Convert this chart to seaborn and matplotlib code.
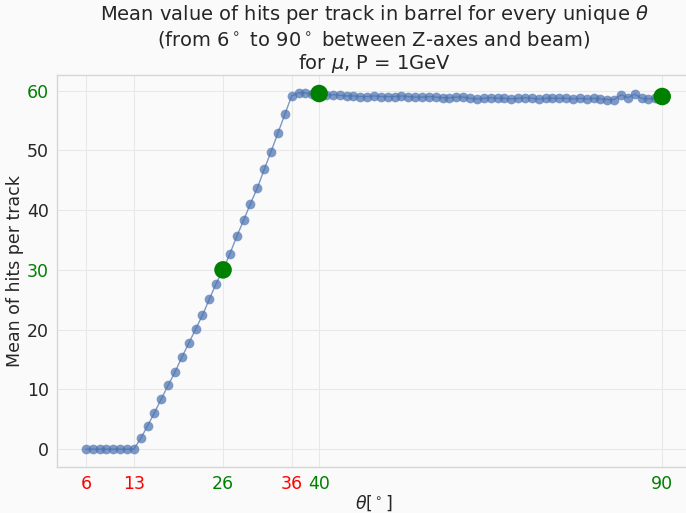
import numpy as np
import pandas as pd
import matplotlib
matplotlib.use("Agg")
import matplotlib.pyplot as plt
import seaborn as sns

# Mean hits per track for each polar angle theta (degrees)
theta = list(range(6, 91))
mean_hits = [
    0.0, 0.0, 0.0, 0.0, 0.0, 0.0, 0.0, 0.0,            # 6-13
    1.8, 3.9, 6.1, 8.4, 10.7, 12.9, 15.4, 17.7,        # 14-21
    20.1, 22.4, 25.1, 27.7, 30.0, 32.7, 35.6, 38.3,    # 22-29
    41.1, 43.7, 46.8, 49.8, 52.9, 56.0, 59.1, 59.6,    # 30-37
    59.6, 59.4, 59.5,                                  # 38-40
    59.3, 59.3, 59.2, 59.1, 59.1, 59.0, 59.0, 59.1, 59.0, 59.0,  # 41-50
    59.0, 59.1, 59.0, 58.9, 58.9, 59.0, 58.9, 58.8, 58.8, 58.9,  # 51-60
    58.9, 58.7, 58.6, 58.7, 58.8, 58.7, 58.7, 58.6, 58.7, 58.8,  # 61-70
    58.7, 58.6, 58.7, 58.7, 58.7, 58.7, 58.6, 58.7, 58.6, 58.7,  # 71-80
    58.6, 58.5, 58.5, 59.3, 58.8, 59.4, 58.7, 58.6, 58.7, 59.0,  # 81-90
]

# Highlighted angles
key_theta = [26, 40, 90]
key_hits = [30.0, 59.5, 59.0]

xticks = [6, 13, 26, 36, 40, 90]
xtick_colors = ["red", "red", "green", "red", "green", "green"]
yticks = [0, 10, 20, 30, 40, 50, 60]
ytick_colors = ["#262626", "#262626", "#262626", "green", "#262626", "#262626", "green"]

sns.set_theme(style="whitegrid")
plt.rcParams["font.family"] = ["DejaVu Sans"]

df = pd.DataFrame({"theta": theta, "hits": mean_hits})
key_df = pd.DataFrame({"theta": key_theta, "hits": key_hits})

fig = plt.figure(figsize=(6.86, 5.13), dpi=100, facecolor="#fafafa")
ax = fig.add_axes([57 / 686, 1 - 467 / 513, 634 / 686, (467 - 75) / 513])
ax.set_facecolor("#fafafa")

sns.lineplot(data=df, x="theta", y="hits", ax=ax, color="#4c72b0",
             marker="o", markersize=7, linewidth=1.0, alpha=0.72,
             markeredgewidth=0)
sns.scatterplot(data=key_df, x="theta", y="hits", ax=ax, color="green",
                s=160, edgecolor="none", zorder=5)

ax.set_xlim(1.8, 94.2)
ax.set_ylim(-2.98, 62.6)

ax.set_xticks(xticks)
ax.set_yticks(yticks)
ax.tick_params(axis="both", labelsize=12.5, length=0, pad=6)
for lbl, c in zip(ax.get_xticklabels(), xtick_colors):
    lbl.set_color(c)
for lbl, c in zip(ax.get_yticklabels(), ytick_colors):
    lbl.set_color(c)

ax.grid(True, color="#e8e8e8", linewidth=0.8)
for sp in ax.spines.values():
    sp.set_color("#d6d6d6")
    sp.set_linewidth(1.0)

ax.set_xlabel(r"$\theta [^\circ]$", fontsize=12.5, color="#262626", labelpad=0)
ax.set_ylabel("Mean of hits per track", fontsize=12.5, color="#262626", labelpad=2)
ax.set_title("Mean value of hits per track in barrel for every unique $\\theta$\n"
             "(from 6$^\\circ$ to 90$^\\circ$ between Z-axes and beam)\n"
             "for $\\mu$, P = 1GeV", fontsize=14, color="#262626", pad=4,
             linespacing=1.15)

fig.savefig("out.png", dpi=100, facecolor=fig.get_facecolor())
